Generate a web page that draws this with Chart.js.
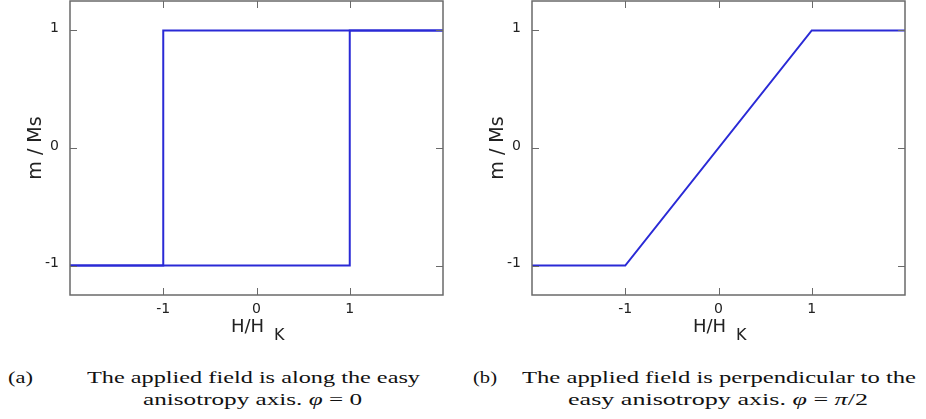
<!DOCTYPE html>
<html><head><meta charset="utf-8">
<script src="https://cdn.jsdelivr.net/npm/chart.js@4.4.0/dist/chart.umd.min.js"></script>
<style>
html,body{margin:0;padding:0;background:#fff;width:926px;height:419px;overflow:hidden;}
.box{position:absolute;top:0;height:345px;}
.cap{position:absolute;font-family:"Liberation Serif",serif;font-size:17px;line-height:17px;white-space:nowrap;color:#111;transform-origin:0 0;}
</style></head><body>
<div class="box" style="left:0;width:463px"><canvas id="c1"></canvas></div>
<div class="box" style="left:462px;width:464px"><canvas id="c2"></canvas></div>
<div class="cap" data-w="25" style="left:8px;top:369px">(a)</div>
<div class="cap" data-w="333" style="left:87px;top:369px">The applied field is along the easy</div>
<div class="cap" data-w="219" style="left:143px;top:391px">anisotropy axis. <i>φ</i> = 0</div>
<div class="cap" data-w="24" style="left:473px;top:369px">(b)</div>
<div class="cap" data-w="394" style="left:522px;top:369px">The applied field is perpendicular to the</div>
<div class="cap" data-w="300" style="left:568px;top:391px">easy anisotropy axis. <i>φ</i> = <i>π</i>/2</div>
<script>
// ---- data ----
const X_TICKS = [-1, 0, 1];
const Y_TICKS = [-1, 0, 1];
const X_TITLE_MAIN = 'H/H';
const X_TITLE_SUB = 'K';
const Y_TITLE = 'm / Ms';
// (a) easy axis: hysteresis loop
const EASY_UP_H   = [-2, 1, 1, 2];
const EASY_UP_M   = [-1, -1, 1, 1];
const EASY_DOWN_H = [2, -1, -1, -2];
const EASY_DOWN_M = [1, 1, -1, -1];
// (b) hard axis
const HARD_H = [-2, -1, 1, 2];
const HARD_M = [-1, -1, 1, 1];

const LINE_COLOR = '#2a2ad6';
const FRAME_COLOR = '#6a6a6a';

function pts(xs, ys){ return xs.map((x,i)=>({x:x, y:ys[i]})); }

const framePlugin = {
  id:'frame',
  afterDatasetsDraw(chart){
    const {ctx, chartArea:a, scales} = chart;
    ctx.save();
    ctx.strokeStyle = FRAME_COLOR;
    ctx.lineWidth = 1.5;
    ctx.strokeRect(a.left, a.top, a.right-a.left, a.bottom-a.top);
    ctx.lineWidth = 1;
    const L = 7;
    ctx.beginPath();
    X_TICKS.forEach(v=>{
      const px = Math.round(scales.x.getPixelForValue(v))+0.5;
      ctx.moveTo(px, a.bottom); ctx.lineTo(px, a.bottom-L);
      ctx.moveTo(px, a.top); ctx.lineTo(px, a.top+L);
    });
    Y_TICKS.forEach(v=>{
      const py = Math.round(scales.y.getPixelForValue(v))+0.5;
      ctx.moveTo(a.left, py); ctx.lineTo(a.left+L, py);
      ctx.moveTo(a.right, py); ctx.lineTo(a.right-L, py);
    });
    ctx.stroke();
    ctx.restore();
  }
};
const xTitlePlugin = {
  id:'xTitle',
  afterDraw(chart){
    const {ctx, chartArea:a} = chart;
    const cx = (a.left+a.right)/2;
    ctx.save();
    ctx.fillStyle = '#222';
    ctx.textAlign = 'left';
    ctx.textBaseline = 'alphabetic';
    ctx.font = '18px "DejaVu Sans"';
    ctx.fillText(X_TITLE_MAIN, cx-25.5, a.bottom+37);
    ctx.font = '16px "DejaVu Sans"';
    ctx.fillText(X_TITLE_SUB, cx+17.5, a.bottom+45);
    ctx.restore();
  }
};

function makeScales(){
  return {
    x:{
      type:'linear', min:-2, max:2,
      afterBuildTicks:s=>{ s.ticks = X_TICKS.map(v=>({value:v})); },
      afterFit:s=>{ s.height = 50; s.paddingLeft = 0; s.paddingRight = 0; s.paddingTop = 0; s.paddingBottom = 0; },
      grid:{display:false, drawTicks:false},
      border:{display:false},
      ticks:{padding:6, autoSkip:false, maxRotation:0, color:'#222',
             font:{family:'DejaVu Sans', size:14}, callback:v=>String(v)}
    },
    y:{
      type:'linear', min:-1.25, max:1.25,
      afterBuildTicks:s=>{ s.ticks = Y_TICKS.map(v=>({value:v})); },
      afterFit:s=>{ s.width = 70; s.paddingLeft = 0; s.paddingRight = 0; s.paddingTop = 0; s.paddingBottom = 0; },
      grid:{display:false, drawTicks:false},
      border:{display:false},
      ticks:{padding:11, labelOffset:-2, autoSkip:false, color:'#222',
             font:{family:'DejaVu Sans', size:14}, callback:v=>String(v)},
      title:{display:true, text:Y_TITLE, color:'#222',
             font:{family:'DejaVu Sans', size:19}, padding:{top:25, bottom:0}}
    }
  };
}
function ds(data){
  return {data:data, showLine:true, borderColor:LINE_COLOR, borderWidth:2,
          pointRadius:0, fill:false, tension:0};
}
function makeChart(id, datasets, rightPad){
  return new Chart(document.getElementById(id), {
    type:'scatter',
    data:{datasets:datasets},
    options:{
      responsive:true, maintainAspectRatio:false, animation:false,
      layout:{padding:{left:0, right:rightPad, top:1, bottom:0}},
      plugins:{legend:{display:false}, tooltip:{enabled:false}, title:{display:false}},
      scales:makeScales()
    },
    plugins:[framePlugin, xTitlePlugin]
  });
}
makeChart('c1', [ds(pts(EASY_UP_H, EASY_UP_M)), ds(pts(EASY_DOWN_H, EASY_DOWN_M))], 20);
makeChart('c2', [ds(pts(HARD_H, HARD_M))], 21);

function fit(){
  document.querySelectorAll('.cap').forEach(el=>{
    el.style.transform = 'none';
    const w = el.getBoundingClientRect().width;
    const t = parseFloat(el.dataset.w);
    if (w > 0) el.style.transform = 'scaleX(' + (t/w) + ')';
  });
}
fit();
if (document.fonts && document.fonts.ready) document.fonts.ready.then(fit);
</script>
</body></html>
